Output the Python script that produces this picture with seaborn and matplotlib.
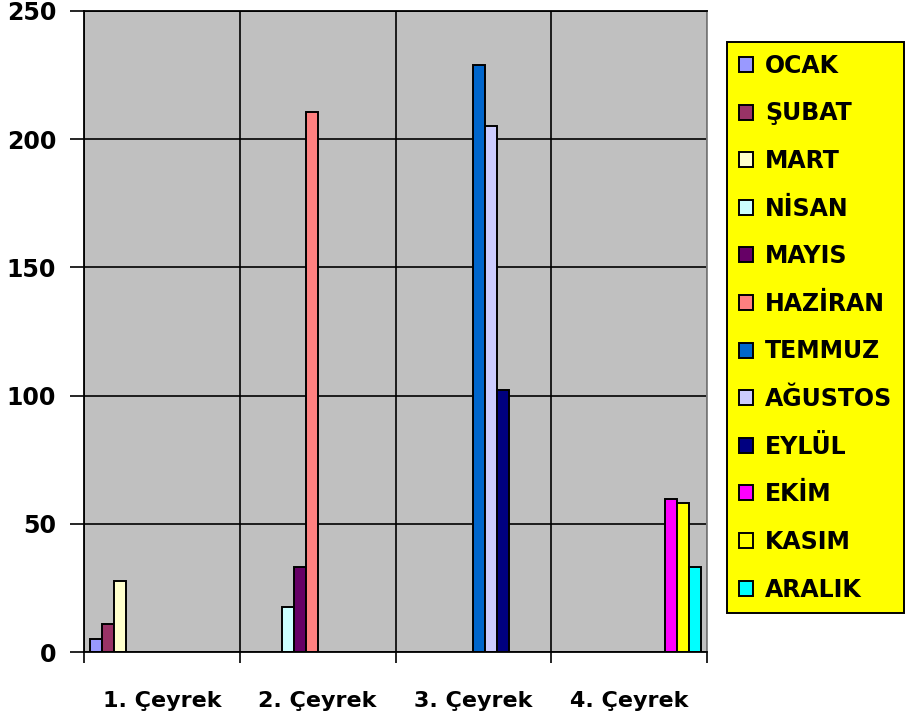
import matplotlib
matplotlib.use("Agg")
import matplotlib.pyplot as plt
import pandas as pd
import seaborn as sns

quarters = ["1. Çeyrek", "2. Çeyrek", "3. Çeyrek", "4. Çeyrek"]
months = ["OCAK", "ŞUBAT", "MART", "NİSAN", "MAYIS", "HAZİRAN",
          "TEMMUZ", "AĞUSTOS", "EYLÜL", "EKİM", "KASIM", "ARALIK"]
month_quarter = [quarters[i // 3] for i in range(12)]
values = [5, 11, 27.5, 17.5, 33, 210.5, 229, 205, 102, 59.5, 58, 33]
colors = ["#9999FF", "#993366", "#FFFFCC", "#CCFFFF", "#660066", "#FF8080",
          "#0066CC", "#CCCCFF", "#000080", "#FF00FF", "#FFFF00", "#00FFFF"]

df = pd.DataFrame({"ceyrek": month_quarter, "ay": months, "deger": values})

sns.set_style("white")
plt.rcParams["font.family"] = ["DejaVu Sans"]
plt.rcParams["font.weight"] = "bold"
plt.rcParams["text.color"] = "black"
plt.rcParams["xtick.color"] = "black"
plt.rcParams["ytick.color"] = "black"

fig = plt.figure(figsize=(9.19, 7.26), dpi=100)
ax = fig.add_axes([84 / 919, 74 / 726, 623 / 919, 641 / 726])
ax.set_facecolor("#C0C0C0")

sns.barplot(data=df, x="ceyrek", y="deger", hue="ay", order=quarters,
            hue_order=months, palette=colors, saturation=1, width=0.923,
            dodge=True, edgecolor="black", linewidth=1.4, legend=True, ax=ax)

ax.set_xlim(-0.5, 3.5)
ax.set_ylim(0, 250)
ax.set_yticks([0, 50, 100, 150, 200, 250])
ax.set_xticks([-0.5, 0.5, 1.5, 2.5, 3.5], minor=True)
ax.set_xticks(range(4))
ax.set_xticklabels(quarters)
ax.set_xlabel("")
ax.set_ylabel("")
ax.set_axisbelow(True)
ax.grid(axis="y", color="black", linewidth=1.2)
ax.grid(axis="x", which="minor", color="black", linewidth=1.2)
ax.grid(axis="x", which="major", visible=False)
ax.tick_params(axis="x", which="major", length=0, pad=28, labelsize=16)
ax.tick_params(axis="x", which="minor", length=8, width=1.2, color="black", bottom=True)
ax.tick_params(axis="y", length=10, width=1.2, color="black", left=True,
               labelsize=17, pad=10)
for lab in ax.get_xticklabels() + ax.get_yticklabels():
    lab.set_fontweight("bold")

for side in ["left", "bottom", "top"]:
    ax.spines[side].set_color("black")
    ax.spines[side].set_linewidth(1.3)
ax.spines["right"].set_color("#808080")
ax.spines["right"].set_linewidth(1.3)

handles, labels = ax.get_legend_handles_labels()
ax.get_legend().remove()
leg = fig.legend(handles, labels, loc="upper left",
                 bbox_to_anchor=(727 / 919, 1 - 42 / 726),
                 frameon=True, fancybox=False, facecolor="#FFFF00",
                 edgecolor="black", framealpha=1,
                 prop={"weight": "bold", "size": 17},
                 handlelength=0.6, handleheight=0.6, handletextpad=0.5,
                 labelspacing=1.0, borderpad=0.5, borderaxespad=0)
leg.get_frame().set_linewidth(1.4)

fig.savefig("out.png", dpi=100)
